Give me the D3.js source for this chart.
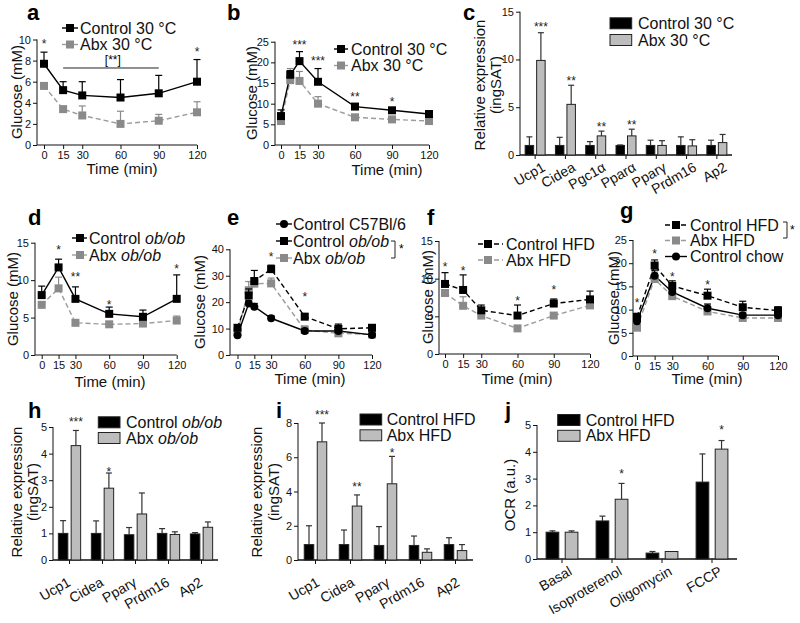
<!DOCTYPE html>
<html><head><meta charset="utf-8">
<script src="https://cdn.jsdelivr.net/npm/d3@7"></script>
<style>body{margin:0;background:#fff}svg{display:block}text{font-family:'Liberation Sans',Arial,Helvetica,sans-serif}</style>
</head><body>
<script>
// ---------------- DATA ----------------
const timeTicks = [0, 15, 30, 60, 90, 120];
const timesStd = [0, 15, 30, 60, 90, 120];
const timesB = [0, 7.5, 15, 30, 60, 90, 120];
const timesE = [0, 10, 15, 30, 60, 90, 120];

// a
const aControl = [7.7, 5.2, 4.7, 4.5, 4.9, 6.0];
const aControlErr = [1.1, 0.8, 1.3, 1.7, 1.7, 2.1];
const aAbx = [5.6, 3.4, 2.8, 2.0, 2.3, 3.1];
const aAbxErr = [0.1, 0.1, 0.9, 1.2, 0.6, 1.0];
const aStars = ["*", "", "", "", "", "*"];
const aStarAt = [9.8, 0, 0, 0, 0, 9.0];
// b
const bControl = [7.0, 17.0, 20.3, 15.3, 9.3, 8.4, 7.5];
const bControlErr = [1.5, 1.0, 2.3, 3.2, 0.6, 0.4, 0.3];
const bAbx = [5.8, 15.7, 15.5, 10.0, 6.7, 6.2, 5.8];
const bAbxErr = [0.3, 2.8, 2.3, 1.7, 0.4, 0.3, 0.2];
const bStars = ["", "", "***", "***", "**", "*", ""];
const bStarAt = [0, 0, 24.6, 20.7, 12.1, 10.9, 0];
// c
const cGenes = ["Ucp1", "Cidea", "Pgc1α", "Pparα", "Pparγ", "Prdm16", "Ap2"];
const cControl = [1, 1, 1, 1, 1, 1, 1];
const cControlErr = [0.9, 0.85, 0.4, 0.05, 0.55, 0.9, 0.55];
const cAbx = [9.9, 5.3, 2.0, 2.0, 1.0, 0.95, 1.3];
const cAbxErr = [2.9, 2.0, 0.5, 0.7, 0.5, 0.65, 0.85];
const cStars = ["***", "**", "**", "**", "", "", ""];
const cStarAt = [13.6, 8.0, 3.1, 3.4, 0, 0, 0];
// d
const dControl = [8.0, 11.7, 7.5, 5.5, 5.1, 7.5];
const dControlErr = [1.2, 1.1, 1.6, 0.9, 0.9, 3.2];
const dAbx = [6.7, 8.9, 4.3, 4.1, 4.2, 4.6];
const dAbxErr = [0.2, 1.5, 0.2, 0.2, 0.2, 0.6];
const dStars = ["", "*", "**", "*", "", "*"];
const dStarAt = [0, 14.3, 10.7, 7.0, 0, 11.8];
// e
const eC57 = [7.5, 19.5, 18.3, 13.9, 9.1, 9.1, 7.6];
const eC57Err = [0.5, 1.0, 1.2, 0.9, 0.8, 0.5, 0.4];
const eControl = [10.3, 22.5, 28.0, 32.5, 14.5, 9.9, 10.3];
const eControlErr = [1.0, 2.5, 4.0, 1.5, 1.2, 1.8, 0.5];
const eAbx = [8.8, 24.5, 27.0, 27.1, 9.5, 8.2, 7.8];
const eAbxErr = [0.8, 3.3, 2.0, 2.0, 1.5, 0.8, 0.5];
const eStars = ["", "", "", "*", "*", "", ""];
const eStarAt = [0, 0, 0, 37.8, 22.7, 0, 0];
// f
const fControl = [9.3, 8.5, 5.8, 5.1, 6.7, 7.25];
const fControlErr = [1.5, 2.0, 0.7, 1.4, 0.6, 1.1];
const fAbx = [8.1, 6.4, 5.1, 3.4, 5.1, 6.45];
const fAbxErr = [0.2, 1.2, 0.3, 0.2, 0.3, 0.5];
const fStars = ["*", "*", "", "*", "*", ""];
const fStarAt = [11.8, 11.3, 0, 7.3, 8.8, 0];
// g
const gControl = [8.4, 19.5, 15.1, 13.0, 10.5, 9.8];
const gControlErr = [0.8, 1.2, 1.1, 1.4, 1.3, 0.8];
const gAbx = [6.1, 16.6, 12.9, 9.6, 8.2, 8.2];
const gAbxErr = [0.5, 1.5, 0.5, 0.4, 0.4, 0.4];
const gChow = [7.5, 17.3, 13.8, 10.3, 8.8, 8.8];
const gChowErr = [0.5, 1.2, 0.6, 0.9, 0.5, 0.5];
const gStars = ["*", "*", "*", "*", "", ""];
const gStarAt = [11.9, 22.5, 17.5, 15.7, 0, 0];
// h
const hGenes = ["Ucp1", "Cidea", "Pparγ", "Prdm16", "Ap2"];
const hControl = [1.0, 1.0, 0.95, 1.0, 0.98];
const hControlErr = [0.48, 0.47, 0.27, 0.18, 0.05];
const hAbx = [4.3, 2.7, 1.73, 0.96, 1.23];
const hAbxErr = [0.57, 0.57, 0.79, 0.1, 0.2];
const hStars = ["***", "*", "", "", ""];
const hStarAt = [5.26, 3.4, 0, 0, 0];
// i
const iGenes = ["Ucp1", "Cidea", "Pparγ", "Prdm16", "Ap2"];
const iControl = [0.9, 0.9, 0.85, 0.85, 0.9];
const iControlErr = [1.1, 0.85, 1.1, 0.55, 0.4];
const iAbx = [6.9, 3.15, 4.45, 0.45, 0.55];
const iAbxErr = [1.1, 0.65, 1.6, 0.2, 0.35];
const iStars = ["***", "**", "*", "", ""];
const iStarAt = [8.6, 4.4, 6.35, 0, 0];
// j
const jConds = ["Basal", "Isoproterenol", "Oligomycin", "FCCP"];
const jControl = [1.0, 1.42, 0.22, 2.87];
const jControlErr = [0.05, 0.18, 0.06, 1.05];
const jAbx = [1.0, 2.23, 0.28, 4.1];
const jAbxErr = [0.05, 0.59, 0, 0.32];
const jStars = ["", "*", "", "*"];
const jStarAt = [0, 3.26, 0, 4.9];

// ---------------- DRAWING ----------------
const FONT = "'Liberation Sans', Arial, Helvetica, sans-serif";
const GREY = "#8a8a8a", GREYLINE = "#9c9c9c", BARGREY = "#bdbdbd";
const svg = d3.select("body").append("svg").attr("width", 800).attr("height", 623)
  .attr("font-family", FONT);

function rich(sel, str) {
  str.split(/(ob\/ob)/).forEach(p => {
    if (!p) return;
    const t = sel.append("tspan").text(p);
    if (p === "ob/ob") t.attr("font-style", "italic");
  });
}
function vtitle(x, yc, str, size) {
  svg.append("text").attr("transform", `translate(${x + size * 0.36},${yc}) rotate(-90)`)
    .attr("text-anchor", "middle").attr("font-size", size).attr("fill", "#111").text(str);
}
function htitle(xc, yc, str, size) {
  svg.append("text").attr("x", xc).attr("y", yc + size * 0.36).attr("text-anchor", "middle")
    .attr("font-size", size).attr("fill", "#111").text(str);
}
function panelLabel(x, y, s) {
  svg.append("text").attr("x", x).attr("y", y).attr("font-size", 22).attr("font-weight", "bold").text(s);
}
function marker(g, type, cx, cy, color) {
  if (type === "circle") g.append("circle").attr("cx", cx).attr("cy", cy).attr("r", 4).attr("fill", color);
  else g.append("rect").attr("x", cx - 4).attr("y", cy - 4).attr("width", 8).attr("height", 8).attr("fill", color);
}
function styleAxis(a) {
  a.attr("font-size", 11).attr("font-family", FONT);
  a.selectAll("line").attr("stroke", "#111");
  a.selectAll("text").attr("fill", "#111");
  a.select(".domain").remove();
}

function lineChart(o) {
  const g = svg.append("g");
  const x = d3.scaleLinear().domain([0, 120]).range(o.xr);
  const y = d3.scaleLinear().domain([0, o.yMax]).range(o.yr);
  const ya = g.append("g").attr("transform", `translate(${o.ax},0)`)
    .call(d3.axisLeft(y).tickValues(o.yTicks).tickSize(4).tickPadding(2).tickFormat(d3.format("d")));
  styleAxis(ya);
  const xa = g.append("g").attr("transform", `translate(0,${y(0)})`)
    .call(d3.axisBottom(x).tickValues(timeTicks).tickSize(4).tickPadding(2));
  styleAxis(xa);
  g.append("line").attr("x1", o.ax).attr("x2", o.ax).attr("y1", y(0)).attr("y2", y(o.yMax)).attr("stroke", "#111");
  g.append("line").attr("x1", o.ax).attr("x2", x(120)).attr("y1", y(0)).attr("y2", y(0)).attr("stroke", "#111");

  const line = d3.line().x(d => x(d[0])).y(d => y(d[1]));
  o.series.forEach(s => {
    const pts = s.t.map((t, i) => [t, s.v[i]]);
    g.append("path").attr("d", line(pts)).attr("fill", "none").attr("stroke", s.line)
      .attr("stroke-width", 1.4).attr("stroke-dasharray", s.dash || null);
  });
  o.series.forEach(s => {
    s.t.forEach((t, i) => {
      if (!s.e[i]) return;
      const cx = x(t), y1 = y(s.v[i]), y2 = y(s.v[i] + s.e[i]);
      g.append("line").attr("x1", cx).attr("x2", cx).attr("y1", y1).attr("y2", y2).attr("stroke", s.color).attr("stroke-width", 1.2);
      g.append("line").attr("x1", cx - 3.5).attr("x2", cx + 3.5).attr("y1", y2).attr("y2", y2).attr("stroke", s.color).attr("stroke-width", 1.2);
    });
    s.t.forEach((t, i) => marker(g, s.marker, x(t), y(s.v[i]), s.color));
  });
  o.stars.forEach((st, i) => {
    if (!st) return;
    g.append("text").attr("x", x(o.starT[i])).attr("y", y(o.starAt[i]) + 6).attr("text-anchor", "middle")
      .attr("font-size", 12).attr("fill", "#222").text(st);
  });
  return { x, y, g };
}

function lineLegend(o) {
  o.rows.forEach(r => {
    svg.append("line").attr("x1", o.x0).attr("x2", o.x1).attr("y1", r.y).attr("y2", r.y)
      .attr("stroke", r.line).attr("stroke-width", 1.4).attr("stroke-dasharray", r.dash || null);
    marker(svg, r.marker, o.xm, r.y, r.color);
    const t = svg.append("text").attr("x", o.tx).attr("y", r.y + 5.6).attr("font-size", 16).attr("fill", "#111");
    rich(t, r.label);
  });
}

function barChart(o) {
  const g = svg.append("g");
  const x = d3.scaleBand().domain(o.cats).range(o.xr);
  const y = d3.scaleLinear().domain([0, o.yMax]).range(o.yr);
  const ya = g.append("g").attr("transform", `translate(${o.xr[0]},0)`)
    .call(d3.axisLeft(y).tickValues(o.yTicks).tickSize(4).tickPadding(2).tickFormat(d3.format("d")));
  styleAxis(ya);
  g.append("line").attr("x1", o.xr[0]).attr("x2", o.xr[0]).attr("y1", y(0)).attr("y2", y(o.yMax)).attr("stroke", "#111");
  g.append("line").attr("x1", o.xr[0]).attr("x2", o.xr[1]).attr("y1", y(0)).attr("y2", y(0)).attr("stroke", "#111").attr("stroke-width", 1.3);
  o.cats.forEach((c, i) => {
    const cx = x(c) + x.bandwidth() / 2;
    g.append("line").attr("x1", cx).attr("x2", cx).attr("y1", y(0)).attr("y2", y(0) + 4).attr("stroke", "#111");
    const bars = [
      { x0: cx - o.gap / 2 - o.bw, v: o.ctrl[i], e: o.ctrlErr[i], fill: "#000" },
      { x0: cx + o.gap / 2, v: o.abx[i], e: o.abxErr[i], fill: BARGREY }
    ];
    bars.forEach(b => {
      const bc = b.x0 + o.bw / 2;
      if (b.e > 0) {
        g.append("line").attr("x1", bc).attr("x2", bc).attr("y1", y(b.v)).attr("y2", y(b.v + b.e)).attr("stroke", "#333").attr("stroke-width", 1.2);
        g.append("line").attr("x1", bc - 3).attr("x2", bc + 3).attr("y1", y(b.v + b.e)).attr("y2", y(b.v + b.e)).attr("stroke", "#333").attr("stroke-width", 1.2);
      }
      g.append("rect").attr("x", b.x0).attr("y", y(b.v)).attr("width", o.bw).attr("height", y(0) - y(b.v))
        .attr("fill", b.fill).attr("stroke", "#222").attr("stroke-width", 1);
    });
    if (o.stars[i]) {
      g.append("text").attr("x", cx + o.gap / 2 + o.bw / 2).attr("y", y(o.starAt[i]) + 6)
        .attr("text-anchor", "middle").attr("font-size", 12).attr("fill", "#222").text(o.stars[i]);
    }
    g.append("text").attr("transform", `translate(${cx + o.ldx},${y(0) + o.ldy}) rotate(-30)`)
      .attr("text-anchor", "end").attr("font-size", 14).attr("fill", "#111").text(c);
  });
  // legend
  o.legend.rows.forEach(r => {
    g.append("rect").attr("x", o.legend.x).attr("y", r.y - 5.5).attr("width", o.legend.w).attr("height", 11)
      .attr("fill", r.fill).attr("stroke", "#222");
    const t = g.append("text").attr("x", o.legend.tx).attr("y", r.y + 5.6).attr("font-size", 16).attr("fill", "#111");
    rich(t, r.label);
  });
}

// ----- panel a -----
const A = lineChart({
  xr: [44, 197], yr: [145, 39.5], ax: 37, yMax: 10, yTicks: [0, 2, 4, 6, 8, 10],
  series: [
    { t: timesStd, v: aAbx, e: aAbxErr, color: GREY, line: GREYLINE, dash: "5,3", marker: "square" },
    { t: timesStd, v: aControl, e: aControlErr, color: "#000", line: "#000", marker: "square" }
  ],
  stars: aStars, starT: timesStd, starAt: aStarAt
});
A.g.append("line").attr("x1", A.x(15)).attr("x2", A.x(90)).attr("y1", A.y(7.3)).attr("y2", A.y(7.3)).attr("stroke", "#222");
A.g.append("text").attr("x", A.x(54)).attr("y", A.y(7.3) - 4).attr("text-anchor", "middle").attr("font-size", 12).text("[**]");
lineLegend({ x0: 62, x1: 78, xm: 70, tx: 80, rows: [
  { y: 28, color: "#000", line: "#000", marker: "square", label: "Control 30 °C" },
  { y: 44.5, color: GREY, line: GREYLINE, marker: "square", label: "Abx 30 °C" }] });
vtitle(17, 92, "Glucose (mM)", 15); htitle(122, 169, "Time (min)", 15); panelLabel(27, 20, "a");

// ----- panel b -----
lineChart({
  xr: [281, 429], yr: [145, 41.7], ax: 275, yMax: 25, yTicks: [0, 5, 10, 15, 20, 25],
  series: [
    { t: timesB, v: bAbx, e: bAbxErr, color: GREY, line: GREYLINE, dash: "5,3", marker: "square" },
    { t: timesB, v: bControl, e: bControlErr, color: "#000", line: "#000", marker: "square" }
  ],
  stars: bStars, starT: timesB, starAt: bStarAt
});
lineLegend({ x0: 334, x1: 348, xm: 341, tx: 351, rows: [
  { y: 49, color: "#000", line: "#000", marker: "square", label: "Control 30 °C" },
  { y: 65.5, color: GREY, line: GREYLINE, marker: "square", label: "Abx 30 °C" }] });
vtitle(252, 93, "Glucose (mM)", 15); htitle(387, 170, "Time (min)", 15); panelLabel(227, 20, "b");

// ----- panel c -----
barChart({
  cats: cGenes, xr: [520, 732], yr: [155, 11.7], yMax: 15, yTicks: [0, 5, 10, 15],
  ctrl: cControl, ctrlErr: cControlErr, abx: cAbx, abxErr: cAbxErr, stars: cStars, starAt: cStarAt,
  bw: 8.5, gap: 3, ldx: 11, ldy: 15,
  legend: { x: 610, w: 21.7, tx: 638, rows: [
    { y: 23.3, fill: "#000", label: "Control 30 °C" }, { y: 40, fill: BARGREY, label: "Abx 30 °C" }] }
});
vtitle(480, 85, "Relative expression", 15); vtitle(496, 85, "(ingSAT)", 15); panelLabel(463, 20, "c");

// ----- panel d -----
lineChart({
  xr: [41.7, 176.7], yr: [355, 242.7], ax: 35, yMax: 15, yTicks: [0, 5, 10, 15],
  series: [
    { t: timesStd, v: dAbx, e: dAbxErr, color: GREY, line: GREYLINE, dash: "5,3", marker: "square" },
    { t: timesStd, v: dControl, e: dControlErr, color: "#000", line: "#000", marker: "square" }
  ],
  stars: dStars, starT: timesStd, starAt: dStarAt
});
lineLegend({ x0: 72, x1: 87, xm: 80, tx: 89, rows: [
  { y: 238, color: "#000", line: "#000", marker: "square", label: "Control ob/ob" },
  { y: 255, color: GREY, line: GREYLINE, marker: "square", label: "Abx ob/ob" }] });
vtitle(13, 299, "Glucose (mM)", 15); htitle(110, 382, "Time (min)", 15); panelLabel(28, 225, "d");

// ----- panel e -----
lineChart({
  xr: [237.5, 372], yr: [355, 249.3], ax: 230, yMax: 40, yTicks: [0, 10, 20, 30, 40],
  series: [
    { t: timesE, v: eAbx, e: eAbxErr, color: GREY, line: GREYLINE, dash: "5,3", marker: "square" },
    { t: timesE, v: eControl, e: eControlErr, color: "#000", line: "#000", dash: "5,3", marker: "square" },
    { t: timesE, v: eC57, e: eC57Err, color: "#000", line: "#000", marker: "circle" }
  ],
  stars: eStars, starT: timesE, starAt: eStarAt
});
lineLegend({ x0: 276, x1: 292, xm: 284, tx: 293, rows: [
  { y: 224, color: "#000", line: "#000", marker: "circle", label: "Control C57Bl/6" },
  { y: 241, color: "#000", line: "#000", marker: "square", label: "Control ob/ob" },
  { y: 258, color: GREY, line: GREYLINE, marker: "square", label: "Abx ob/ob" }] });
svg.append("path").attr("d", "M391,241H395V258H391").attr("fill", "none").attr("stroke", "#222");
svg.append("text").attr("x", 399).attr("y", 253).attr("font-size", 12).text("*");
vtitle(200, 302, "Glucose (mM)", 15); htitle(310, 379, "Time (min)", 15); panelLabel(227, 225, "e");

// ----- panel f -----
lineChart({
  xr: [445, 590], yr: [354, 241], ax: 439, yMax: 15, yTicks: [0, 5, 10, 15],
  series: [
    { t: timesStd, v: fAbx, e: fAbxErr, color: GREY, line: GREYLINE, dash: "5,3", marker: "square" },
    { t: timesStd, v: fControl, e: fControlErr, color: "#000", line: "#000", dash: "5,3", marker: "square" }
  ],
  stars: fStars, starT: timesStd, starAt: fStarAt
});
lineLegend({ x0: 478, x1: 503, xm: 488, tx: 506, rows: [
  { y: 244, color: "#000", line: "#000", dash: "5,3", marker: "square", label: "Control HFD" },
  { y: 260, color: GREY, line: GREYLINE, dash: "5,3", marker: "square", label: "Abx HFD" }] });
vtitle(428, 297, "Glucose (mM)", 15); htitle(517, 379, "Time (min)", 15); panelLabel(427, 225, "f");

// ----- panel g -----
lineChart({
  xr: [637, 778], yr: [356, 240], ax: 633, yMax: 25, yTicks: [0, 5, 10, 15, 20, 25],
  series: [
    { t: timesStd, v: gAbx, e: gAbxErr, color: GREY, line: GREYLINE, dash: "5,3", marker: "square" },
    { t: timesStd, v: gChow, e: gChowErr, color: "#000", line: "#000", marker: "circle" },
    { t: timesStd, v: gControl, e: gControlErr, color: "#000", line: "#000", dash: "5,3", marker: "square" }
  ],
  stars: gStars, starT: timesStd, starAt: gStarAt
});
lineLegend({ x0: 665, x1: 687, xm: 676, tx: 690, rows: [
  { y: 225, color: "#000", line: "#000", dash: "5,3", marker: "square", label: "Control HFD" },
  { y: 240.5, color: GREY, line: GREYLINE, dash: "5,3", marker: "square", label: "Abx HFD" },
  { y: 256.5, color: "#000", line: "#000", marker: "circle", label: "Control chow" }] });
svg.append("path").attr("d", "M783,222H787V238H783").attr("fill", "none").attr("stroke", "#222");
svg.append("text").attr("x", 790).attr("y", 234).attr("font-size", 12).text("*");
vtitle(614, 298, "Glucose (mM)", 15); htitle(707, 379, "Time (min)", 15); panelLabel(620, 218, "g");

// ----- panel h -----
barChart({
  cats: hGenes, xr: [53, 218], yr: [560, 427], yMax: 5, yTicks: [0, 1, 2, 3, 4, 5],
  ctrl: hControl, ctrlErr: hControlErr, abx: hAbx, abxErr: hAbxErr, stars: hStars, starAt: hStarAt,
  bw: 9.5, gap: 3.3, ldx: 2, ldy: 25,
  legend: { x: 98.3, w: 21.7, tx: 126, rows: [
    { y: 422.3, fill: "#000", label: "Control ob/ob" }, { y: 438, fill: BARGREY, label: "Abx ob/ob" }] }
});
vtitle(17, 492, "Relative expression", 15); vtitle(33, 492, "(ingSAT)", 15); panelLabel(28, 418, "h");

// ----- panel i -----
barChart({
  cats: iGenes, xr: [298, 473], yr: [560, 423], yMax: 8, yTicks: [0, 2, 4, 6, 8],
  ctrl: iControl, ctrlErr: iControlErr, abx: iAbx, abxErr: iAbxErr, stars: iStars, starAt: iStarAt,
  bw: 9.5, gap: 3.5, ldx: 5, ldy: 25,
  legend: { x: 360, w: 21.7, tx: 386.7, rows: [
    { y: 419.5, fill: "#000", label: "Control HFD" }, { y: 435.3, fill: BARGREY, label: "Abx HFD" }] }
});
vtitle(257, 492, "Relative expression", 15); vtitle(274, 492, "(ingSAT)", 15); panelLabel(276, 418, "i");

// ----- panel j -----
barChart({
  cats: jConds, xr: [537, 737], yr: [559, 425], yMax: 5, yTicks: [0, 1, 2, 3, 4, 5],
  ctrl: jControl, ctrlErr: jControlErr, abx: jAbx, abxErr: jAbxErr, stars: jStars, starAt: jStarAt,
  bw: 12.7, gap: 6.4, ldx: 11, ldy: 15,
  legend: { x: 557.7, w: 22.3, tx: 585.7, rows: [
    { y: 420, fill: "#000", label: "Control HFD" }, { y: 435.8, fill: BARGREY, label: "Abx HFD" }] }
});
vtitle(510, 495, "OCR (a.u.)", 15); panelLabel(505, 418, "j");
</script>
</body></html>
